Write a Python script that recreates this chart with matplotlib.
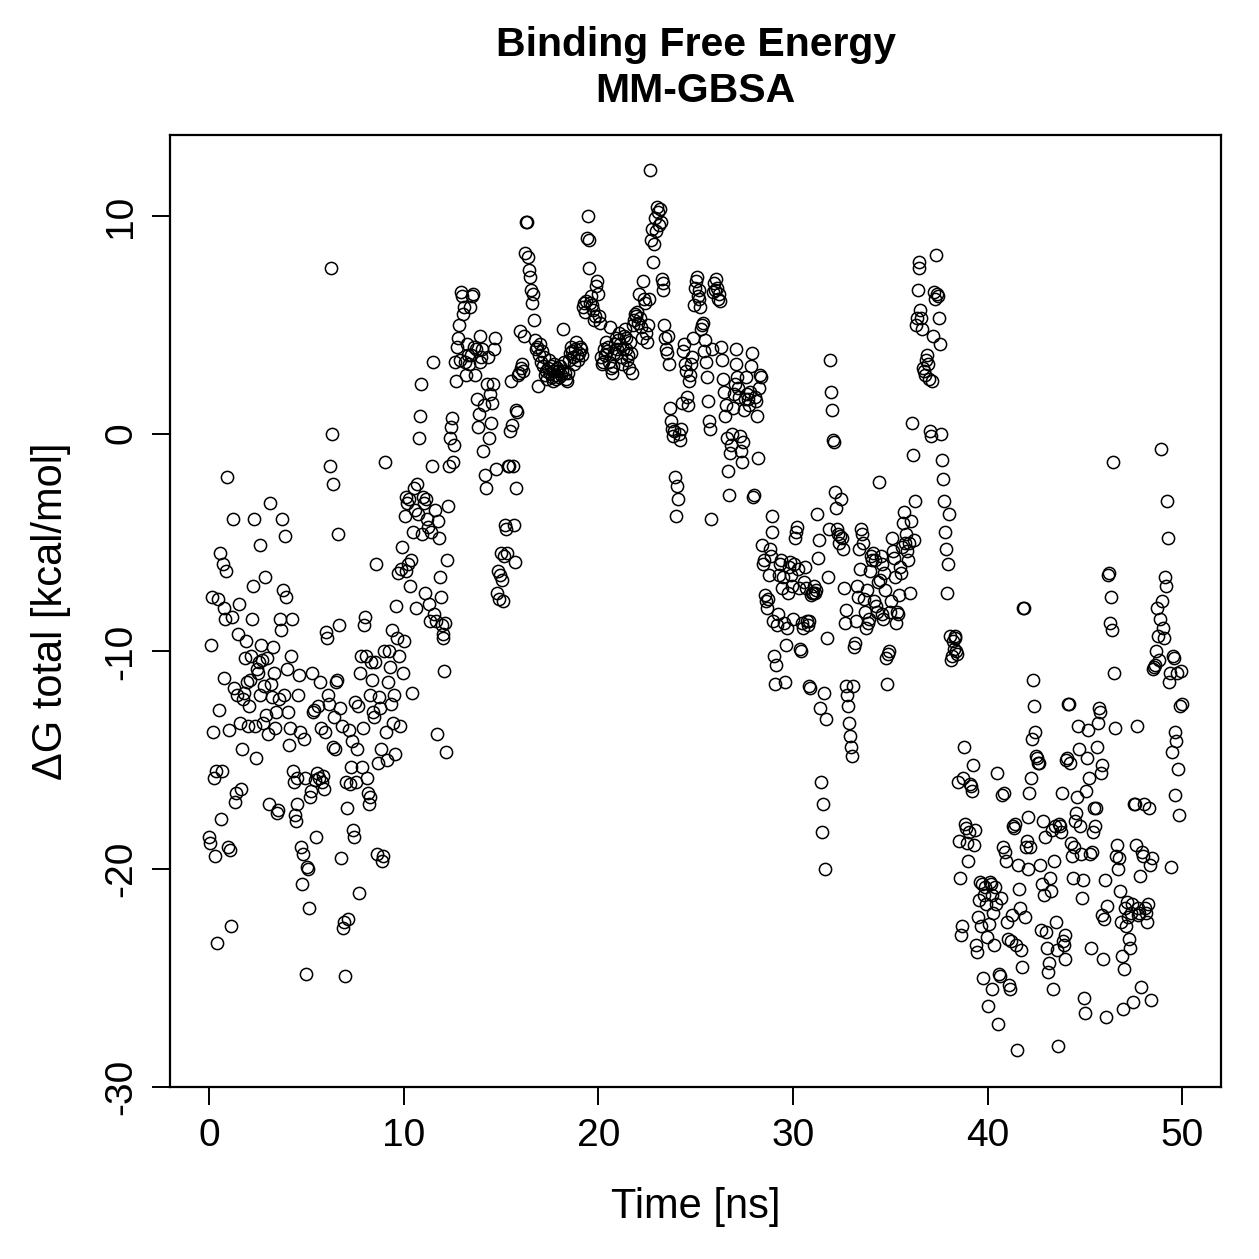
import numpy as np
import matplotlib
matplotlib.use("Agg")
import matplotlib.pyplot as plt

# Binding free energy (MM-GBSA) per frame, 0.05 ns per frame, 20 frames per row
dg_total = [
    -18.5, -18.8, -9.7, -7.5, -13.7, -15.8, -19.4, -15.5, -23.4, -7.6, -12.7, -5.5, -17.7, -15.5, -6.0, -8.0, -11.2, -8.5, -6.3, -2.0,
    -19.0, -13.6, -19.1, -22.6, -8.4, -3.9, -11.7, -16.9, -16.5, -12.0, -9.2, -7.8, -13.3, -16.3, -14.5, -12.2, -11.9, -10.3, -9.5, -11.4,
    -13.4, -12.5, -11.3, -10.2, -8.5, -7.0, -3.9, -13.4, -14.9, -10.8, -11.0, -10.5, -5.1, -12.0, -9.7, -10.4, -13.3, -11.6, -6.6, -12.9,
    -10.3, -13.8, -17.0, -3.2, -11.5, -12.1, -9.8, -11.0, -13.5, -12.8, -17.4, -17.3, -12.2, -8.5, -9.0, -3.9, -7.2, -12.0, -4.7, -7.5,
    -10.8, -12.8, -14.3, -13.5, -10.2, -8.5, -15.5, -16.0, -17.5, -17.8, -15.8, -17.0, -12.0, -11.1, -13.7, -19.0, -20.7, -19.3, -14.0, -15.8,
    -24.8, -19.9, -20.0, -21.8, -16.7, -16.4, -11.0, -12.8, -12.7, -15.9, -18.5, -15.6, -12.5, -15.8, -11.4, -13.5, -16.0, -15.7, -16.3, -13.7,
    -9.1, -9.4, -12.0, -12.4, -1.5, 7.6, 0.0, -2.3, -14.4, -13.0, -14.5, -11.4, -11.3, -4.6, -8.8, -12.6, -19.5, -13.4, -22.7, -22.4,
    -24.9, -16.0, -17.2, -22.3, -13.6, -16.1, -15.3, -14.1, -18.2, -18.5, -12.3, -16.0, -14.5, -12.5, -21.1, -11.0, -10.2, -15.3, -13.5, -8.8,
    -8.4, -10.2, -15.8, -16.5, -17.0, -16.7, -12.0, -10.5, -11.3, -12.8, -13.0, -10.5, -6.0, -19.3, -15.1, -12.1, -12.6, -14.5, -19.6, -19.4,
    -10.0, -1.3, -13.7, -15.0, -11.4, -10.0, -10.7, -12.4, -9.0, -13.3, -12.0, -14.7, -7.9, -9.4, -6.4, -10.2, -13.4, -6.2, -5.2, -11.0,
    -9.5, -3.8, -2.9, -6.3, -3.2, -6.0, -3.0, -7.0, -5.8, -11.9, -4.5, -2.5, -3.5, -8.0, -2.3, -3.7, -0.2, 0.8, 2.3, -4.6,
    -2.9, -3.2, -7.3, -3.0, -3.9, -4.3, -7.8, -8.6, -4.5, -1.5, 3.3, -8.3, -3.5, -8.6, -13.8, -4.0, -4.8, -6.6, -7.5, -8.8,
    -9.2, -9.4, -10.9, -8.7, -14.6, -5.8, -3.3, -1.5, -0.2, 0.3, 0.7, -1.3, -0.5, 3.3, 2.4, 4.0, 4.4, 5.0, 3.4, 6.5,
    6.3, 5.5, 5.8, 3.3, 2.7, 4.1, 3.6, 3.2, 5.8, 3.6, 6.3, 6.4, 4.0, 2.7, 3.9, 1.6, 0.3, 0.9, 3.3, 4.5,
    3.5, 3.9, -0.8, 1.3, -1.9, -2.5, 2.3, 3.5, -0.2, 1.8, 0.5, 1.4, 2.3, 3.9, 4.4, -1.6, -7.3, -6.3, -7.6, -6.5,
    -5.5, -6.7, -7.7, -5.6, -4.2, -4.4, -5.5, -1.5, -1.5, 0.1, 2.4, 0.4, -1.5, -4.2, -5.9, -2.5, 1.1, 1.0, 2.7, 2.8,
    4.7, 3.0, 3.2, 2.9, 4.5, 8.3, 9.7, 9.7, 8.1, 7.5, 7.2, 6.6, 6.0, 6.4, 5.2, 4.3, 3.9, 4.0, 2.2, 3.6,
    4.1, 3.3, 3.8, 3.1, 3.5, 2.7, 2.9, 2.5, 3.0, 3.4, 2.8, 3.1, 2.6, 2.9, 2.4, 3.2, 2.7, 2.5, 3.0, 2.9,
    2.6, 3.1, 2.7, 2.9, 4.8, 3.3, 2.8, 2.5, 2.4, 2.8, 3.4, 3.7, 4.0, 3.8, 3.5, 3.2, 3.9, 4.2, 3.6, 3.4,
    3.7, 4.0, 3.9, 3.6, 5.8, 6.0, 5.6, 6.1, 9.0, 10.0, 7.6, 8.9, 6.0, 6.3, 5.9, 5.7, 5.2, 5.4, 6.8, 7.0,
    6.4, 5.4, 5.1, 3.5, 3.2, 3.3, 3.9, 3.6, 4.2, 3.8, 4.0, 3.3, 4.9, 3.0, 2.8, 3.1, 3.7, 4.1, 4.4, 3.9,
    4.3, 4.6, 4.1, 3.5, 3.2, 3.9, 4.5, 4.8, 4.4, 3.9, 3.4, 3.6, 3.0, 4.2, 3.7, 2.8, 5.0, 5.2, 5.5, 5.4,
    5.6, 5.1, 6.4, 5.3, 4.9, 4.4, 7.0, 6.2, 6.0, 4.6, 4.2, 5.0, 6.2, 12.1, 8.9, 9.4, 7.9, 8.7, 9.9, 9.3,
    10.4, 10.2, 9.6, 10.3, 9.7, 7.1, 6.9, 6.6, 5.0, 4.4, 3.9, 3.7, 4.5, 3.2, 1.2, 0.6, 0.2, -0.1, 0.1, -2.0,
    -3.8, -2.4, -3.0, 0.0, -0.3, 0.2, 1.4, 3.8, 4.1, 3.2, 2.9, 1.7, 1.3, 2.4, 2.7, 3.2, 3.5, 4.4, 5.9, 6.7,
    7.0, 7.2, 6.3, 6.6, 6.2, 5.8, 4.8, 5.0, 5.1, 3.8, 4.3, 3.3, 2.6, 1.5, 0.6, 0.2, -3.9, 3.9, 6.5, 6.9,
    6.6, 7.1, 6.7, 6.2, 6.4, 6.1, 4.0, 3.4, 2.5, 1.9, 0.8, 1.3, -0.2, -1.7, -2.8, -0.9, -0.5, 0.0, 1.2, 1.8,
    2.3, 3.2, 3.9, 2.6, 2.1, 1.7, -0.1, -0.8, -1.3, -0.4, 1.1, 1.6, 2.6, 1.8, 1.6, 1.3, 1.9, 3.1, 3.7, -2.9,
    -2.8, 1.7, 1.5, 0.8, -1.1, 2.1, 2.7, 2.6, -5.1, -6.0, -5.8, -7.4, -7.7, -8.0, -7.6, -6.5, -5.3, -5.6, -3.8, -4.5,
    -8.6, -10.2, -11.5, -10.6, -8.8, -8.3, -6.5, -6.0, -5.8, -7.1, -6.6, -8.7, -11.4, -9.7, -8.9, -7.3, -6.1, -5.9, -6.5, -7.0,
    -8.5, -6.0, -4.8, -4.5, -4.3, -6.2, -7.1, -9.9, -10.0, -8.7, -8.9, -6.8, -6.1, -7.1, -8.6, -8.8, -8.6, -11.6, -11.7, -7.4,
    -7.3, -7.3, -7.0, -7.3, -7.2, -3.7, -5.7, -4.9, -12.6, -16.0, -18.3, -17.0, -11.9, -20.0, -13.1, -9.4, -6.6, -4.4, 3.4, 1.9,
    1.1, -0.3, -0.4, -2.7, -3.4, -4.4, -4.6, -5.0, -4.7, -3.0, -4.8, -5.3, -7.1, -8.7, -8.1, -11.6, -12.0, -12.5, -13.3, -13.9,
    -14.4, -14.8, -11.6, -9.8, -9.6, -8.6, -7.0, -7.5, -5.3, -6.2, -4.4, -4.6, -5.0, -7.6, -8.2, -8.9, -7.2, -8.7, -8.5, -6.3,
    -5.6, -5.8, -5.5, -7.7, -5.8, -7.9, -8.2, -6.8, -2.2, -6.7, -5.6, -6.0, -8.3, -8.5, -6.4, -7.2, -10.3, -11.5, -10.1, -10.0,
    -8.2, -7.7, -4.8, -5.4, -5.7, -6.6, -8.7, -8.2, -8.3, -7.4, -6.1, -6.4, -5.2, -4.1, -3.6, -5.0, -4.6, -5.4, -5.8, -5.0,
    -7.3, -4.0, 0.5, -1.0, -4.9, -3.1, 5.0, 5.3, 6.6, 7.9, 7.6, 5.7, 5.3, 4.8, 3.0, 2.9, 2.7, 3.4, 3.6, 3.2,
    2.5, 0.1, -0.1, 2.4, 4.5, 6.5, 6.2, 8.2, 6.4, 6.3, 5.3, 4.1, 0.0, -1.2, -2.1, -3.1, -4.5, -5.3, -7.3, -6.0,
    -3.7, -9.3, -10.4, -10.2, -9.5, -9.9, -9.3, -9.4, -10.0, -10.1, -16.0, -18.7, -20.4, -23.0, -22.6, -15.8, -14.4, -17.9, -18.1, -18.8,
    -19.6, -18.3, -16.1, -16.2, -16.4, -15.2, -18.9, -18.2, -23.5, -23.8, -22.2, -21.4, -20.6, -22.6, -20.7, -25.0, -21.2, -20.8, -21.6, -23.1,
    -26.3, -22.5, -20.6, -20.7, -21.2, -25.5, -22.0, -23.5, -20.8, -21.6, -15.6, -27.1, -24.8, -24.9, -21.3, -16.6, -19.0, -16.5, -19.2, -19.6,
    -22.4, -23.2, -25.3, -25.5, -23.3, -22.1, -18.0, -18.1, -17.9, -23.5, -28.3, -19.8, -20.9, -21.8, -23.7, -24.5, -8.0, -8.0, -22.2, -19.0,
    -18.7, -17.6, -20.0, -16.5, -19.0, -15.8, -14.0, -11.3, -12.5, -13.7, -14.8, -14.9, -15.1, -15.1, -19.8, -22.8, -20.7, -17.8, -21.2, -18.5,
    -22.9, -23.6, -24.7, -24.3, -20.4, -21.0, -18.2, -25.5, -19.6, -18.0, -22.4, -23.7, -28.1, -17.9, -18.0, -18.3, -16.5, -23.3, -23.5, -23.0,
    -24.1, -15.0, -14.9, -12.4, -12.4, -15.1, -18.8, -19.4, -20.4, -19.0, -17.8, -17.4, -16.7, -13.4, -14.5, -18.0, -19.3, -21.3, -20.5, -25.9,
    -26.6, -16.4, -14.9, -13.6, -15.8, -19.3, -23.6, -19.2, -18.3, -17.2, -18.0, -17.2, -14.4, -13.3, -12.6, -12.8, -15.6, -15.2, -22.1, -24.1,
    -22.3, -20.5, -26.8, -21.7, -6.5, -6.4, -8.7, -7.5, -9.0, -1.3, -11.0, -13.5, -19.4, -18.9, -20.0, -19.5, -21.0, -22.4, -24.0, -26.4,
    -24.6, -21.8, -22.6, -21.5, -22.2, -23.2, -23.6, -22.0, -21.6, -26.1, -17.0, -17.0, -18.9, -13.4, -21.8, -22.1, -22.0, -20.3, -25.4, -19.2,
    -19.4, -17.0, -21.8, -22.0, -22.4, -21.6, -17.2, -19.8, -26.0, -19.5, -10.8, -10.7, -10.6, -10.0, -8.0, -9.3, -10.4, -8.5, -0.7, -7.7,
    -8.9, -9.4, -6.6, -7.0, -3.1, -4.8, -11.4, -11.0, -19.9, -14.6, -10.2, -10.3, -13.7, -16.6, -14.1, -11.0, -15.4, -17.5, -12.5, -10.9,
    -12.4,
]
dt_ns = 0.05
time_ns = np.arange(len(dg_total)) * dt_ns

x_ticks = [0, 10, 20, 30, 40, 50]
y_ticks = [-30, -20, -10, 0, 10]

plt.rcParams['font.family'] = ['Liberation Sans', 'DejaVu Sans']

fig = plt.figure(figsize=(12.59, 12.59), dpi=100)
ax = fig.add_axes([0.135, 0.1366, 0.835, 0.7562])

ax.plot(time_ns, dg_total, linestyle='none', marker='o', markersize=8.8,
        markerfacecolor='none', markeredgecolor='black', markeredgewidth=1.1)

# R style 4% padding
def padded(lo, hi):
    d = (hi - lo) * 0.04
    return lo - d, hi + d

ax.set_xlim(*padded(time_ns.min(), time_ns.max()))
ax.set_ylim(*padded(min(dg_total), max(dg_total)))

ax.set_xticks(x_ticks)
ax.set_yticks(y_ticks)
ax.set_yticklabels([str(v) for v in y_ticks], rotation=90, va='center')
ax.tick_params(direction='out', length=13, width=1.4, labelsize=28, pad=9)

for s in ax.spines.values():
    s.set_linewidth(1.6)

ax.set_xlabel('Time [ns]', fontsize=30, labelpad=24)
ax.set_ylabel('ΔG total [kcal/mol]', fontsize=30, labelpad=23)
ax.set_title('Binding Free Energy\nMM-GBSA', fontsize=29.5, fontweight='bold',
             linespacing=1.25, pad=24)

fig.savefig('out.png', dpi=100)
